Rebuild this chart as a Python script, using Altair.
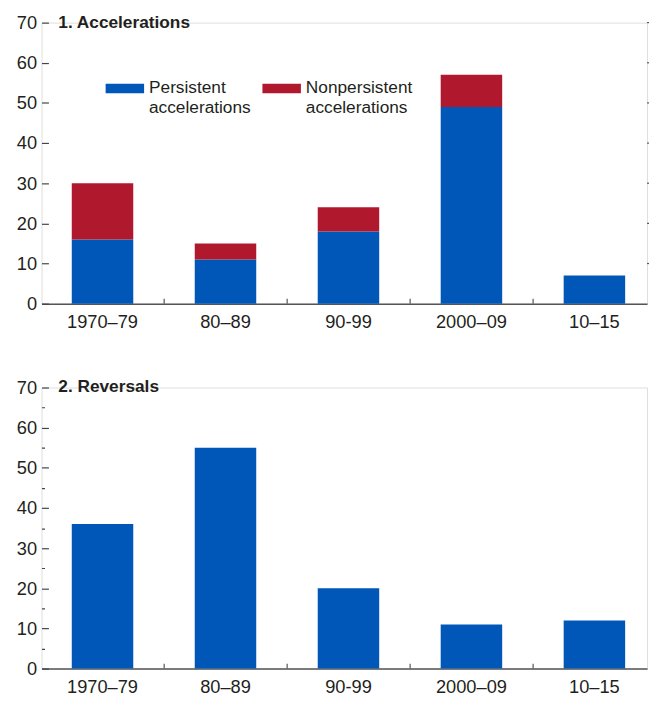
import altair as alt
import pandas as pd

# ---- data ----
periods = ["1970–79", "80–89", "90-99", "2000–09", "10–15"]
persistent_acc = [16, 11, 18, 49, 7]
nonpersistent_acc = [14, 4, 6, 8, 0]
reversals = [36, 55, 20, 11, 12]
series_names = ["Persistent accelerations", "Nonpersistent accelerations"]
series_colors = ["#0057B8", "#B0182D"]
y_ticks = list(range(0, 75, 5))
right_ticks = list(range(10, 80, 10))
panel_titles = ["1. Accelerations", "2. Reversals"]

FONT = "Liberation Sans, Arial, sans-serif"
TEXT = "#231F20"
W, H = 614, 285

acc_rows = []
for p, a, b in zip(periods, persistent_acc, nonpersistent_acc):
    acc_rows.append({"period": p, "series": series_names[0], "value": a, "ord": 0})
    acc_rows.append({"period": p, "series": series_names[1], "value": b, "ord": 1})
acc_df = pd.DataFrame(acc_rows)
rev_df = pd.DataFrame({"period": periods, "series": series_names[0], "value": reversals, "ord": 0})
bound_df = pd.DataFrame({"period": periods[1:]})
rt_df = pd.DataFrame({"v": right_ticks})

x_scale = alt.Scale(domain=periods, paddingInner=0.5, paddingOuter=0.212, align=0.58)
y_scale = alt.Scale(domain=[0, 70], nice=False)

x_axis = alt.Axis(title=None, ticks=False, labelAngle=0, labelPadding=9,
                  domainColor="#555555", domainWidth=1.5, labelFontSize=18.5,
                  labelColor=TEXT, labelFont=FONT)
y_axis = alt.Axis(title=None, values=y_ticks, grid=False, domain=False,
                  labelExpr="datum.value % 10 == 0 ? datum.label : ''",
                  tickSize=7,
                  tickDash={"expr": "datum.value % 10 == 0 ? [7, 0] : [0, 4, 3, 10]"},
                  tickColor="#444444", tickWidth=1.2, offset=-7, labelPadding=5,
                  labelFontSize=18.5, labelColor=TEXT, labelFont=FONT)


def panel(df, title, legend):
    if legend:
        leg = alt.Legend(title=None, orient="none", legendX=65, legendY=47,
                         direction="horizontal", columns=2,
                         symbolType="M-1,-0.25H1V0.25H-1Z", symbolSize=1521,
                         symbolStrokeWidth=0, labelOffset=5, columnPadding=11,
                         labelExpr="split(datum.label, ' ')",
                         labelFontSize=17.5, labelColor=TEXT, labelFont=FONT,
                         labelLimit=300)
    else:
        leg = None
    bars = alt.Chart(df).mark_bar().encode(
        x=alt.X("period:N", scale=x_scale, axis=x_axis, sort=periods),
        y=alt.Y("value:Q", scale=y_scale, axis=y_axis, stack="zero"),
        color=alt.Color("series:N",
                        scale=alt.Scale(domain=series_names, range=series_colors),
                        legend=leg),
        order=alt.Order("ord:Q"),
    )
    ticks = alt.Chart(bound_df).mark_rule(
        color="#555555", strokeWidth=1.2, xOffset=-31
    ).encode(
        x=alt.X("period:N", scale=x_scale, bandPosition=0, sort=periods),
        y=alt.value(H),
        y2=alt.value(H - 5),
    )
    ttl = alt.Chart(pd.DataFrame({"t": [title]})).mark_text(
        align="left", baseline="middle", fontWeight="bold", fontSize=17.5,
        font=FONT, color=TEXT,
    ).encode(text="t:N", x=alt.value(17), y=alt.value(0))
    layers = [bars, ticks, ttl]
    if legend:
        rt = alt.Chart(rt_df).mark_rule(color="#555555", strokeWidth=1.2).encode(
            y=alt.Y("v:Q", scale=y_scale),
            x=alt.value(W),
            x2=alt.value(W + 2),
        )
        layers.append(rt)
    return alt.layer(*layers).properties(width=W, height=H)


p1 = panel(acc_df, panel_titles[0], True)
p2 = panel(rev_df, panel_titles[1], False)

chart = alt.vconcat(p1, p2, spacing=47).properties(
    padding={"left": 7, "top": 0, "right": 0, "bottom": -3}
).configure_view(stroke=None).configure(font=FONT)

chart.save("out.html", embed_options={"renderer": "svg", "actions": False})
